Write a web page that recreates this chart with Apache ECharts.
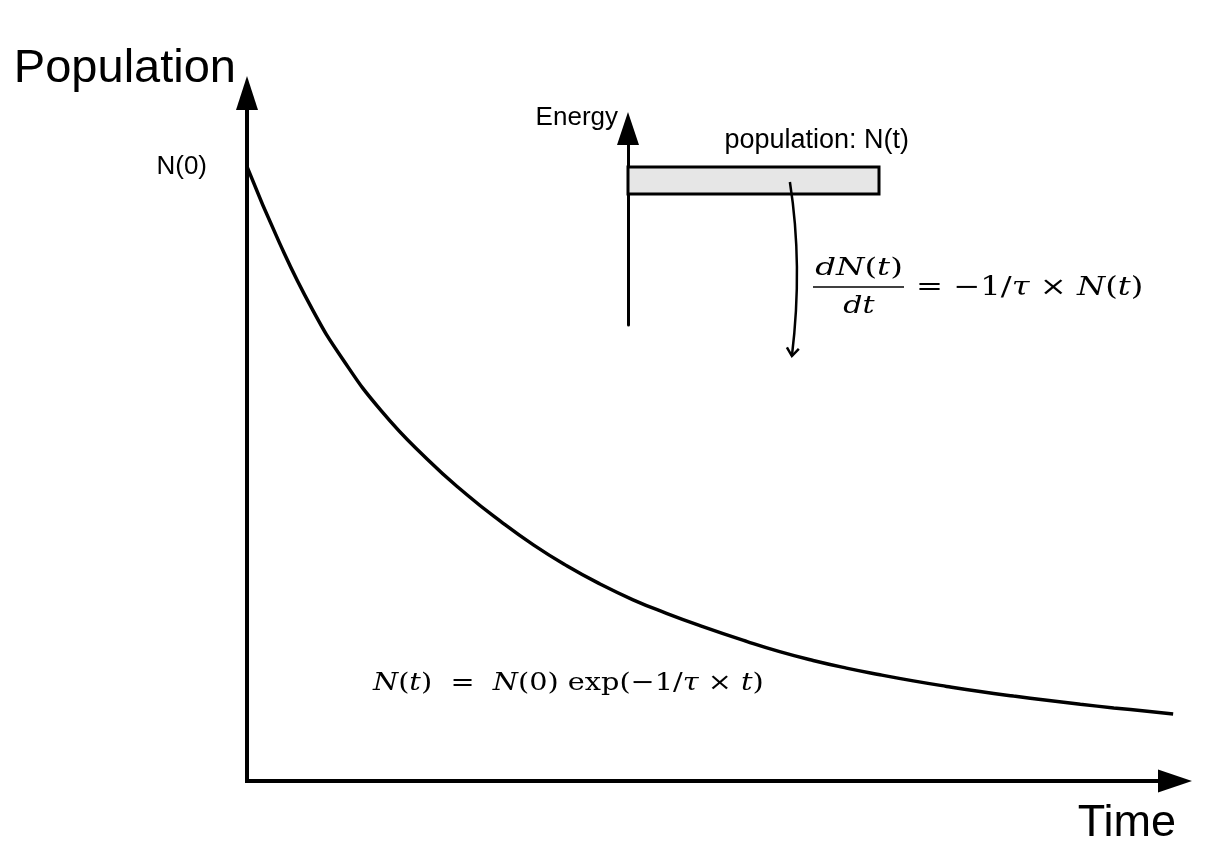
<!DOCTYPE html>
<html>
<head>
<meta charset="utf-8">
<script src="https://cdn.jsdelivr.net/npm/echarts@6/dist/echarts.min.js"></script>
<style>html,body{margin:0;padding:0;background:#fff}#c{width:1227px;height:867px}</style>
</head>
<body>
<div id="c"></div>
<script>
// ---- data ----
const timeValues = [0, 0.35, 0.70, 1.03, 1.45, 1.94, 2.37, 2.73, 3.09, 3.45, 3.80, 4.16, 4.52, 4.88, 5.39, 5.74, 6.10, 6.46, 6.82, 7.18, 7.54, 7.90, 8.26, 8.62, 8.98, 9.34, 9.70, 9.98];
const populationValues = [100, 87.6, 76.9, 68.7, 60.2, 52.4, 46.6, 42.3, 38.4, 35.0, 32.1, 29.5, 27.3, 25.3, 22.7, 21.06, 19.62, 18.38, 17.3, 16.3, 15.4, 14.57, 13.83, 13.15, 12.5, 11.9, 11.36, 10.9];
const yTickLabels = {100: 'N(0)'};
// inset energy diagram: level [xStart, xEnd, energyBottom, energyTop]
const energyLevel = [0, 10, 6.67, 8.04];
const levelLabel = 'population: N(t)';
// decay arrow in inset coordinates: start, control, end
const decayArrow = [6.45, 7.28, 6.97, 3.05, 6.53, -1.58];

const SANS = "'Liberation Sans', Arial, sans-serif";
const SERIF = "'DejaVu Serif', serif";

const chart = echarts.init(document.getElementById('c'));

function richMath(size) {
  return {
    i: {fontFamily: SERIF, fontStyle: 'italic', fontSize: size, color: '#000'},
    r: {fontFamily: SERIF, fontSize: size, color: '#000'}
  };
}

const option = {
  backgroundColor: '#fff',
  animation: false,
  grid: [
    {left: 247, top: 93, width: 928, bottom: 86},
    {left: 628, top: 128.5, width: 251, bottom: 542}
  ],
  xAxis: [
    {
      type: 'value', gridIndex: 0, min: 0, max: 10,
      name: 'Time', nameLocation: 'end', nameGap: 1,
      nameTextStyle: {fontFamily: SANS, fontSize: 45, color: '#000', align: 'right', verticalAlign: 'top', lineHeight: 45, padding: [20, 0, 0, 0]},
      axisLine: {show: true, onZero: false, symbol: ['none', 'triangle'], symbolSize: [23, 34], lineStyle: {color: '#000', width: 4, cap: 'square'}},
      axisTick: {show: false}, axisLabel: {show: false}, splitLine: {show: false}
    },
    {
      type: 'value', gridIndex: 1, min: 0, max: 10, show: false
    }
  ],
  yAxis: [
    {
      type: 'value', gridIndex: 0, min: 0, max: 112, interval: 100,
      name: 'Population', nameLocation: 'end', nameGap: 24,
      nameTextStyle: {fontFamily: SANS, fontSize: 47, color: '#000', align: 'right', verticalAlign: 'middle', lineHeight: 47, padding: [0, 11, 0, 0]},
      axisLine: {show: true, onZero: false, symbol: ['none', 'triangle'], symbolSize: [22, 34], lineStyle: {color: '#000', width: 4, cap: 'square'}},
      axisTick: {show: false},
      axisLabel: {show: true, margin: 40, fontFamily: SANS, fontSize: 26, color: '#000', padding: [6, 0, 0, 0],
        formatter: v => yTickLabels[v] || ''},
      splitLine: {show: false}
    },
    {
      type: 'value', gridIndex: 1, min: 0, max: 10,
      name: 'Energy', nameLocation: 'end', nameGap: 11,
      nameTextStyle: {fontFamily: SANS, fontSize: 26, color: '#000', align: 'right', verticalAlign: 'middle', lineHeight: 26, padding: [0, 10, 0, 0]},
      axisLine: {show: true, onZero: false, symbol: ['none', 'triangle'], symbolSize: [22, 33], lineStyle: {color: '#000', width: 3}},
      axisTick: {show: false}, axisLabel: {show: false}, splitLine: {show: false}
    }
  ],
  series: [
    {
      name: 'Population', type: 'line', xAxisIndex: 0, yAxisIndex: 0,
      data: timeValues.map((t, i) => [t, populationValues[i]]),
      smooth: 0.5, showSymbol: false, clip: false,
      lineStyle: {color: '#000', width: 3.5}
    },
    {
      name: 'Energy level', type: 'custom', xAxisIndex: 1, yAxisIndex: 1,
      data: [energyLevel],
      renderItem: function (params, api) {
        const p0 = api.coord([api.value(0), api.value(3)]);
        const p1 = api.coord([api.value(1), api.value(2)]);
        return {
          type: 'group',
          children: [
            {type: 'rect', shape: {x: p0[0], y: p0[1], width: p1[0] - p0[0], height: p1[1] - p0[1]},
             style: {fill: '#e6e6e6', stroke: '#000', lineWidth: 3}},
            {type: 'text', style: {text: levelLabel, x: p1[0] + 30, y: p0[1] - 26, align: 'right', verticalAlign: 'middle',
              font: '27px ' + SANS, fill: '#000'}}
          ]
        };
      }
    },
    {
      name: 'Decay', type: 'custom', xAxisIndex: 1, yAxisIndex: 1,
      data: [decayArrow],
      renderItem: function (params, api) {
        const s = api.coord([api.value(0), api.value(1)]);
        const c = api.coord([api.value(2), api.value(3)]);
        const e = api.coord([api.value(4), api.value(5)]);
        const dx = e[0] - c[0], dy = e[1] - c[1];
        const L = Math.hypot(dx, dy), ux = dx / L, uy = dy / L;
        const back = 8, half = 6;
        const bx = e[0] - ux * back, by = e[1] - uy * back;
        return {
          type: 'group',
          children: [
            {type: 'bezierCurve', shape: {x1: s[0], y1: s[1], x2: e[0], y2: e[1], cpx1: c[0], cpy1: c[1]},
             style: {stroke: '#000', lineWidth: 2.5, fill: null}},
            {type: 'polyline', shape: {points: [[bx - uy * half, by + ux * half], [e[0], e[1]], [bx + uy * half, by - ux * half]]},
             style: {stroke: '#000', lineWidth: 2.5, fill: null}}
          ]
        };
      }
    }
  ],
  graphic: [
    {type: 'text', x: 859, y: 268, scaleX: 1.3, style: {text: '{i|dN}{r|(}{i|t}{r|)}', rich: richMath(25), align: 'center', verticalAlign: 'middle'}},
    {type: 'line', shape: {x1: 813, y1: 287, x2: 904, y2: 287}, style: {stroke: '#000', lineWidth: 1.5}},
    {type: 'text', x: 859, y: 306, scaleX: 1.2, style: {text: '{i|dt}', rich: richMath(25), align: 'center', verticalAlign: 'middle'}},
    {type: 'text', x: 916, y: 288, scaleX: 1.24, style: {text: '{r|= −1/}{i|τ}{r| × }{i|N}{r|(}{i|t}{r|)}', rich: richMath(26), align: 'left', verticalAlign: 'middle'}},
    {type: 'text', x: 373, y: 683, scaleX: 1.15, style: {text: '{i|N}{r|(}{i|t}{r|)  =  }{i|N}{r|(0) exp(−1/}{i|τ}{r| × }{i|t}{r|)}', rich: richMath(25), align: 'left', verticalAlign: 'middle'}}
  ]
};
chart.setOption(option);
</script>
</body>
</html>
